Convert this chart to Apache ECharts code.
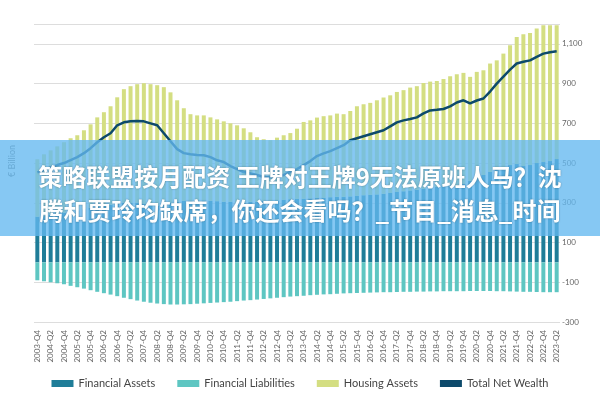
<!DOCTYPE html>
<html><head><meta charset="utf-8">
<script src="https://cdn.jsdelivr.net/npm/echarts@6/dist/echarts.min.js"></script>
<style>html,body{margin:0;padding:0;background:#fff}#c{width:600px;height:400px}</style>
</head><body><div id="c"></div>
<script>
const quarters = [];
for (let y = 2003; y <= 2023; y++) for (let q = 1; q <= 4; q++) {
  if ((y === 2003 && q < 4) || (y === 2023 && q > 2)) continue;
  quarters.push(y + '-Q' + q);
}
const financialAssets = [230,235,240,245,250,255,262,268,275,280,285,290,295,300,300,300,295,290,285,290,300,305,310,310,312,312,310,308,305,305,300,300,305,305,310,310,312,315,318,320,320,322,325,325,328,330,330,332,335,338,340,342,345,350,355,358,362,365,370,375,380,385,390,380,395,410,425,440,455,470,480,490,495,485,490,500,505,510,520];
const housingAssets = [289,309,324,339,355,370,378,397,420,450,471,496,536,572,587,597,607,607,607,592,556,511,466,436,428,428,420,412,405,395,390,375,350,325,310,305,316,325,333,353,387,393,404,411,412,419,416,430,451,458,463,474,485,491,503,509,518,522,533,535,533,538,547,567,559,524,534,527,546,547,571,603,640,664,665,677,689,684,674];
const financialLiabilities = [-90,-95,-100,-105,-110,-118,-125,-132,-140,-148,-155,-162,-170,-178,-185,-192,-198,-203,-207,-210,-212,-212,-211,-210,-208,-206,-204,-202,-200,-198,-195,-192,-190,-187,-184,-181,-178,-175,-172,-170,-168,-165,-163,-161,-160,-158,-156,-155,-154,-153,-152,-151,-150,-150,-149,-148,-148,-147,-147,-146,-146,-145,-145,-145,-145,-144,-144,-144,-144,-145,-145,-146,-147,-148,-148,-149,-150,-150,-150];
const totalNetWealth = [453,465,478,490,500,515,530,550,575,605,630,650,690,705,710,712,710,700,690,650,610,570,550,544,541,539,530,514,505,485,470,455,448,440,430,428,430,440,455,470,490,510,535,549,560,575,590,615,625,635,645,655,665,685,705,715,722,730,750,765,768,772,785,805,816,800,815,825,860,900,935,970,1001,1010,1017,1035,1051,1058,1063];
const bannerLines = ['策略联盟按月配资 王牌对王牌9无法原班人马？沈', '腾和贾玲均缺席，你还会看吗？_节目_消息_时间'];

const chart = echarts.init(document.getElementById('c'));
const font = 'Lato, "Noto Sans", sans-serif';
chart.setOption({
  animation: false,
  textStyle: {fontFamily: font},
  grid: {left: 34, right: 40, top: 24, bottom: 78},
  legend: {bottom: 6, left: 'center', itemWidth: 22, itemHeight: 7, itemGap: 22, icon: 'rect',
    textStyle: {fontSize: 11, color: '#444', fontFamily: font},
    data: ['Financial Assets','Financial Liabilities','Housing Assets',
      {name: 'Total Net Wealth', icon: 'rect', itemStyle: {color: '#0d4a6b'}}]},
  xAxis: {type: 'category', data: quarters,
    axisLine: {show: false}, axisTick: {show: false},
    axisLabel: {rotate: 90, interval: 1, fontSize: 8, color: '#666', margin: 8}},
  yAxis: {type: 'value', position: 'right', min: -300, max: 1200, interval: 200, offset: -6,
    axisLine: {show: false}, axisTick: {show: false},
    axisLabel: {fontSize: 8, color: '#666', showMaxLabel: false,
      formatter: v => v.toLocaleString('en-US')},
    splitLine: {lineStyle: {color: '#ddd'}}},
  series: [
    {name: 'Financial Assets', type: 'bar', stack: 'a', data: financialAssets,
      itemStyle: {color: '#1f7d98'}, barCategoryGap: '40%'},
    {name: 'Financial Liabilities', type: 'bar', stack: 'a', data: financialLiabilities,
      itemStyle: {color: '#5ec6c2'}},
    {name: 'Housing Assets', type: 'bar', stack: 'a', data: housingAssets,
      itemStyle: {color: '#d4de82'}},
    {name: 'Total Net Wealth', type: 'line', data: totalNetWealth, symbol: 'none',
      lineStyle: {color: '#0d4a6b', width: 2.5}, itemStyle: {color: '#0d4a6b'}, z: 5}
  ],
  graphic: [
    {type: 'text', left: 8, top: 145, rotation: Math.PI / 2,
      style: {text: '€ Billion', fill: '#777', font: '9px Lato'}},
    {type: 'rect', left: 0, top: 140, shape: {width: 600, height: 96},
      style: {fill: 'rgba(100,185,240,0.78)'}, z: 100},
    {type: 'text', left: 'center', top: 165, z: 101,
      style: {text: bannerLines[0], fill: '#fff', font: 'bold 24px "Noto Sans CJK SC"',
        textShadowColor: 'rgba(0,0,0,0.35)', textShadowBlur: 2}},
    {type: 'text', left: 'center', top: 199, z: 101,
      style: {text: bannerLines[1], fill: '#fff', font: 'bold 24px "Noto Sans CJK SC"',
        textShadowColor: 'rgba(0,0,0,0.35)', textShadowBlur: 2}}
  ]
});
</script></body></html>
